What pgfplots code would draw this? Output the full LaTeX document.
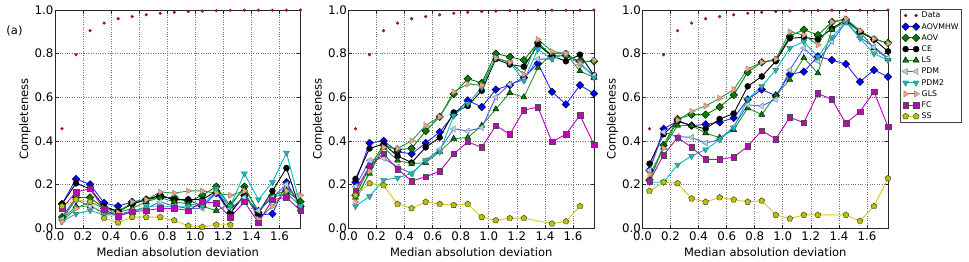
\documentclass[border=0pt]{standalone}
\usepackage{pgfplots}
\pgfplotsset{compat=1.18}
\usepackage{pgfplotstable}
\usepackage{fontspec}
\setmainfont{DejaVu Sans}

\definecolor{cData}{RGB}{178,24,24}
\definecolor{cBlue}{RGB}{0,0,255}
\definecolor{cBlueLine}{RGB}{40,40,255}
\definecolor{cGreen}{RGB}{0,128,0}
\definecolor{cLS}{RGB}{45,150,45}
\definecolor{cPDMline}{RGB}{70,90,255}
\definecolor{cPDMfill}{RGB}{173,216,230}
\definecolor{cCyan}{RGB}{0,191,191}
\definecolor{cSalmon}{RGB}{255,160,122}
\definecolor{cGLSline}{RGB}{40,150,70}
\definecolor{cMag}{RGB}{191,0,191}
\definecolor{cYel}{RGB}{191,191,0}
\definecolor{cYelLine}{RGB}{205,205,40}

\pgfplotstableread{
x data aovmhw aov ce ls pdm pdm2 gls fc ss
0.05 0.455 0.11 0.05 0.11 0.04 0.04 0.03 0.03 0.09 0.10
0.15 0.795 0.225 0.14 0.205 0.10 0.13 0.065 0.09 0.165 0.13
0.25 0.905 0.20 0.14 0.18 0.10 0.10 0.08 0.12 0.18 0.12
0.35 0.94 0.115 0.09 0.10 0.07 0.07 0.06 0.09 0.085 0.045
0.45 0.96 0.10 0.08 0.075 0.07 0.06 0.06 0.07 0.055 0.025
0.55 0.97 0.12 0.11 0.11 0.09 0.08 0.07 0.12 0.075 0.05
0.65 0.978 0.13 0.13 0.13 0.12 0.09 0.10 0.13 0.08 0.05
0.75 0.985 0.15 0.14 0.15 0.14 0.12 0.10 0.165 0.09 0.05
0.85 0.99 0.13 0.14 0.13 0.12 0.10 0.10 0.16 0.09 0.035
0.95 0.993 0.13 0.12 0.13 0.11 0.09 0.10 0.17 0.08 0.01
1.05 0.995 0.10 0.15 0.13 0.10 0.09 0.10 0.17 0.12 0.005
1.15 0.997 0.16 0.19 0.17 0.08 0.17 0.18 0.16 0.115 0.015
1.25 0.998 0.07 0.10 0.07 0.11 0.09 0.10 0.15 0.05 0.015
1.35 0.999 0.15 0.19 0.15 0.18 0.14 0.25 0.17 0.12 nan
1.45 0.999 0.06 0.07 0.07 0.08 0.08 0.13 0.04 0.025 nan
1.55 0.999 0.065 0.15 0.17 0.14 0.14 0.21 0.10 0.13 nan
1.65 0.999 0.21 0.17 0.275 0.16 0.20 0.345 0.17 0.14 nan
1.75 1.0 0.10 0.12 0.08 0.10 0.10 0.10 0.15 0.08 nan
}\tabA

\pgfplotstableread{
x data aovmhw aov ce ls pdm pdm2 gls fc ss
0.05 0.455 0.21 0.15 0.225 0.14 0.19 0.10 0.12 0.17 0.15
0.15 0.795 0.39 0.28 0.365 0.25 0.31 0.145 0.26 0.285 0.205
0.25 0.905 0.40 0.38 0.385 0.37 0.32 0.22 0.37 0.34 0.195
0.35 0.94 0.35 0.36 0.33 0.31 0.28 0.23 0.365 0.27 0.11
0.45 0.96 0.34 0.365 0.30 0.295 0.25 0.25 0.40 0.215 0.09
0.55 0.97 0.39 0.445 0.37 0.30 0.31 0.31 0.47 0.235 0.12
0.65 0.978 0.44 0.51 0.415 0.35 0.36 0.35 0.51 0.26 0.11
0.75 0.985 0.52 0.615 0.53 0.41 0.455 0.515 0.625 0.34 0.105
0.85 0.99 0.585 0.685 0.56 0.415 0.445 0.57 0.66 0.395 0.11
0.95 0.993 0.555 0.665 0.63 0.47 0.46 0.645 0.655 0.37 0.05
1.05 0.995 0.635 0.80 0.775 0.545 0.60 0.78 0.78 0.47 0.035
1.15 0.997 0.655 0.785 0.75 0.62 0.66 0.76 0.76 0.43 0.045
1.25 0.998 0.69 0.77 0.74 0.60 0.68 0.675 0.705 0.54 0.045
1.35 0.999 0.755 0.85 0.84 0.735 0.775 0.82 0.865 0.555 nan
1.45 0.999 0.625 0.79 0.79 0.80 0.775 0.775 0.81 0.395 0.02
1.55 0.999 0.567 0.79 0.765 0.80 0.80 0.80 0.80 0.43 0.03
1.65 0.999 0.655 0.765 0.795 0.72 0.75 0.76 0.755 0.517 0.10
1.75 1.0 0.617 0.765 0.70 0.69 0.70 0.69 0.77 0.383 nan
}\tabB

\pgfplotstableread{
x data aovmhw aov ce ls pdm pdm2 gls fc ss
0.05 0.455 0.265 0.22 0.295 0.22 0.265 0.21 0.245 0.215 0.17
0.15 0.795 0.455 0.38 0.43 0.37 0.44 0.21 0.365 0.335 0.21
0.25 0.905 0.49 0.50 0.49 0.47 0.42 0.29 0.495 0.415 0.205
0.35 0.94 0.47 0.52 0.47 0.47 0.415 0.33 0.535 0.37 0.135
0.45 0.96 0.475 0.52 0.455 0.435 0.39 0.36 0.56 0.315 0.12
0.55 0.97 0.485 0.555 0.50 0.415 0.405 0.405 0.595 0.315 0.14
0.65 0.978 0.505 0.61 0.525 0.45 0.465 0.46 0.635 0.325 0.13
0.75 0.985 0.59 0.715 0.65 0.55 0.565 0.59 0.73 0.375 0.12
0.85 0.99 0.635 0.76 0.695 0.52 0.56 0.65 0.76 0.447 0.125
0.95 0.993 0.607 0.77 0.765 0.61 0.59 0.725 0.775 0.408 0.06
1.05 0.995 0.705 0.88 0.87 0.68 0.725 0.825 0.90 0.508 0.043
1.15 0.997 0.717 0.91 0.875 0.78 0.825 0.855 0.885 0.483 0.06
1.25 0.998 0.787 0.885 0.865 0.71 0.765 0.785 0.84 0.617 0.06
1.35 0.999 0.77 0.945 0.915 0.91 0.855 0.875 0.945 0.59 nan
1.45 0.999 0.752 0.955 0.955 0.945 0.945 0.945 0.96 0.48 0.06
1.55 0.999 0.671 0.90 0.90 0.90 0.875 0.87 0.905 0.534 0.032
1.65 0.999 0.725 0.865 0.865 0.825 0.83 0.80 0.868 0.625 0.10
1.75 1.0 0.694 0.85 0.81 0.775 0.78 0.77 0.847 0.465 0.228
}\tabC

\pgfplotsset{
  sData/.style={only marks, mark=*, mark size=1.45bp, mark options={draw=cData!75!black, fill=cData, line width=0.3bp}},
  sAOVMHW/.style={draw=cBlueLine, line width=0.9bp, mark=square*, mark size=2.7bp, mark options={rotate=45, fill=cBlue, draw=black, line width=0.4bp}},
  sAOV/.style={draw=cGreen, line width=0.9bp, mark=square*, mark size=2.7bp, mark options={rotate=45, fill=cGreen, draw=black, line width=0.4bp}},
  sCE/.style={draw=black, line width=0.9bp, mark=*, mark size=3.0bp, mark options={fill=black, draw=black, line width=0.4bp}},
  sLS/.style={draw=cLS, line width=0.9bp, mark=triangle*, mark size=3.5bp, mark options={fill=cGreen, draw=black, line width=0.4bp}},
  sPDM/.style={draw=cPDMline, line width=0.9bp, mark=triangle*, mark size=3.5bp, mark options={rotate=90, fill=cPDMfill, draw=gray, line width=0.4bp}},
  sPDM2/.style={draw=cCyan, line width=0.9bp, mark=triangle*, mark size=3.5bp, mark options={rotate=180, fill=cCyan, draw=black!60, line width=0.4bp}},
  sGLS/.style={draw=cGLSline, line width=0.9bp, mark=triangle*, mark size=3.5bp, mark options={rotate=-90, fill=cSalmon, draw=gray, line width=0.4bp}},
  sFC/.style={draw=cMag, line width=0.9bp, mark=square*, mark size=2.8bp, mark options={fill=cMag, draw=black!70, line width=0.4bp}},
  sSS/.style={draw=cYelLine, line width=0.9bp, mark=pentagon*, mark size=3.1bp, mark options={fill=cYel, draw=black!80, line width=0.4bp}},
  myaxis/.style={
    scale only axis, width=245.5bp, height=218bp,
    xmin=0, xmax=1.75, ymin=0, ymax=1,
    xtick={0,0.2,0.4,0.6,0.8,1.0,1.2,1.4,1.6},
    ytick={0,0.2,0.4,0.6,0.8,1.0},
    grid=major, grid style={dotted, black!55, line width=0.6bp},
    axis line style={black!85, line width=0.7bp},
    major tick length=3.5bp, tick style={black!85, line width=0.6bp},
    tick align=inside,
    tick label style={font=\fontsize{11.8bp}{13bp}\selectfont},
    label style={font=\fontsize{11.5bp}{13bp}\selectfont},
    xticklabel style={anchor=base, yshift=-12.5bp},
    yticklabel style={inner sep=1.5bp},
    xlabel={Median absolution deviation},
    ylabel={Completeness},
    xlabel style={at={(axis description cs:0.5,0)}, anchor=base, yshift=-28.5bp},
    ylabel style={at={(axis description cs:-0.122,0.5)}, anchor=center},
    /pgf/number format/fixed, /pgf/number format/fixed zerofill,
    /pgf/number format/precision=1, /pgf/number format/assume math mode=true,
  },
}

\newcommand{\plotall}[1]{%
  \addplot[sData] table[x=x,y=data]{#1};
  \addplot[sAOVMHW] table[x=x,y=aovmhw]{#1};
  \addplot[sAOV] table[x=x,y=aov]{#1};
  \addplot[sCE] table[x=x,y=ce]{#1};
  \addplot[sLS] table[x=x,y=ls]{#1};
  \addplot[sPDM] table[x=x,y=pdm]{#1};
  \addplot[sPDM2] table[x=x,y=pdm2]{#1};
  \addplot[sGLS] table[x=x,y=gls]{#1};
  \addplot[sFC] table[x=x,y=fc]{#1};
  \addplot[sSS] table[x=x,y=ss]{#1};
}

\begin{document}
\begin{tikzpicture}
\path[use as bounding box] (0,0) rectangle (969bp,-262bp);

\begin{axis}[myaxis, at={(55bp,-228bp)}, anchor=south west]
\plotall{\tabA}
\end{axis}

\begin{axis}[myaxis, at={(348.5bp,-228bp)}, anchor=south west]
\plotall{\tabB}
\end{axis}

\begin{axis}[myaxis, at={(642.5bp,-228bp)}, anchor=south west,
  legend entries={Data,AOVMHW,AOV,CE,LS,PDM,PDM2,GLS,FC,SS},
  legend image code/.code={\draw[#1] plot coordinates {(0bp,0bp) (10.5bp,0bp)};},
  legend style={at={(1,1)}, anchor=north west, xshift=11.5bp, yshift=1bp,
    font=\fontsize{7.8bp}{9bp}\selectfont, draw=black!75, line width=0.6bp,
    inner xsep=2bp, inner ysep=1.5bp, row sep=1.8bp, column sep=1bp,
    nodes={inner sep=0.8bp, text height=6.2bp, text depth=1.6bp},
    cells={anchor=west}},
  legend cell align=left]
\plotall{\tabC}
\end{axis}

\node[font=\fontsize{11.5bp}{13bp}\selectfont] at (14.5bp,-31bp) {(a)};
\end{tikzpicture}
\end{document}
